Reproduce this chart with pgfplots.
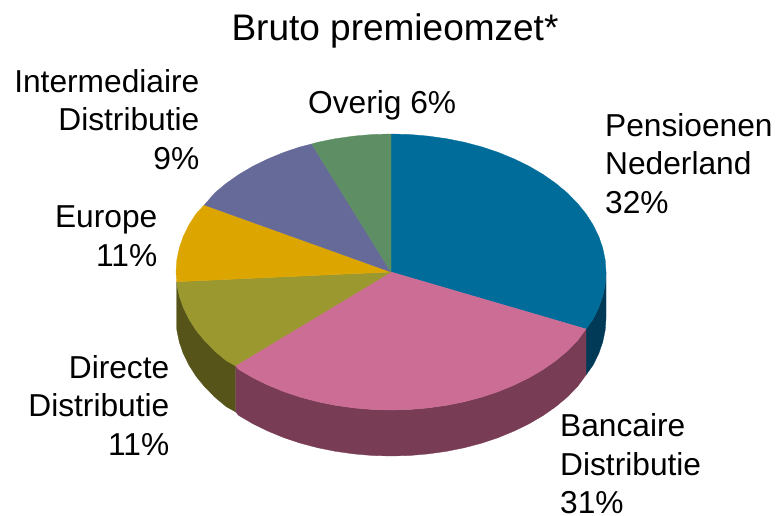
\documentclass[border=0pt]{standalone}
\usepackage{fontspec}
\setmainfont{Liberation Sans}
\usepackage{pgfplots}
\pgfplotsset{compat=1.18}
\definecolor{cBlue}{HTML}{006C9A}
\definecolor{cPink}{HTML}{CC6D95}
\definecolor{cOlive}{HTML}{9A982E}
\definecolor{cGold}{HTML}{DDA500}
\definecolor{cPurple}{HTML}{666A99}
\definecolor{cGreen}{HTML}{5E8E63}
\definecolor{dBlue}{HTML}{003A56}
\definecolor{dPink}{HTML}{783C54}
\definecolor{dOlive}{HTML}{565418}
\begin{document}
\begin{tikzpicture}
\begin{axis}[
    scale only axis,
    width=776pt,
    height=516pt,
    xmin=0, xmax=776,
    ymin=0, ymax=516,
    y dir=reverse,
    axis lines=none,
    clip=false,
    every axis plot/.append style={line width=0.3pt},
]
\path (axis cs:0,0) rectangle (axis cs:776,516);
% side walls
\addplot[fill=dBlue,draw=dBlue] coordinates {
(606,272)(605.2,284)(602.7,296)(598.7,307.7)(593,319.2)(586,329)
(586,375)(593,365.2)(598.7,353.7)(602.7,342)(605.2,330)(606,318)} --cycle;
\addplot[fill=dPink,draw=dPink] coordinates {
(586,329)(577.2,341)(567.1,351.2)(555.7,360.7)(543,369.6)(529.2,377.7)(514.3,385)(498.5,391.5)
(481.9,397.1)(464.5,401.7)(446.6,405.3)(428.3,407.9)(409.7,409.5)(391,410)(372.3,409.5)(353.7,407.9)
(335.4,405.3)(317.5,401.7)(300.1,397.1)(283.5,391.5)(267.7,385)(252.8,377.7)(239,369.6)(235.3,365.7)
(235.3,411.7)(239,415.6)(252.8,423.7)(267.7,431)(283.5,437.5)(300.1,443.1)(317.5,447.7)(335.4,451.3)
(353.7,453.9)(372.3,455.5)(391,456)(409.7,455.5)(428.3,453.9)(446.6,451.3)(464.5,447.7)(481.9,443.1)
(498.5,437.5)(514.3,431)(529.2,423.7)(543,415.6)(555.7,406.7)(567.1,397.2)(577.2,387)(586,375)} --cycle;
\addplot[fill=dOlive,draw=dOlive] coordinates {
(235.3,365.7)(226.3,360.7)(214.9,351.2)(204.8,341)(196.1,330.3)(189,319.2)(183.3,307.7)(179.3,296)(176.8,284)(176.7,281.7)
(176.7,327.7)(176.8,330)(179.3,342)(183.3,353.7)(189,365.2)(196.1,376.3)(204.8,387)(214.9,397.2)(226.3,406.7)(235.3,411.7)} --cycle;
% top faces
\addplot[fill=cBlue,draw=cBlue] coordinates {
(391,272)(391,134)(409.7,134.5)(428.3,136.1)(446.6,138.7)(464.5,142.3)(481.9,146.9)(498.5,152.5)(514.3,159)
(529.2,166.3)(543,174.4)(555.7,183.3)(567.1,192.8)(577.2,203)(585.9,213.7)(593,224.8)(598.7,236.3)(602.7,248)
(605.2,260)(606,272)(605.2,284)(602.7,296)(598.7,307.7)(593,319.2)(586,329)} --cycle;
\addplot[fill=cPink,draw=cPink] coordinates {
(391,272)(586,329)(577.2,341)(567.1,351.2)(555.7,360.7)(543,369.6)(529.2,377.7)(514.3,385)(498.5,391.5)
(481.9,397.1)(464.5,401.7)(446.6,405.3)(428.3,407.9)(409.7,409.5)(391,410)(372.3,409.5)(353.7,407.9)
(335.4,405.3)(317.5,401.7)(300.1,397.1)(283.5,391.5)(267.7,385)(252.8,377.7)(239,369.6)(235.3,365.7)} --cycle;
\addplot[fill=cOlive,draw=cOlive] coordinates {
(391,272)(235.3,365.7)(226.3,360.7)(214.9,351.2)(204.8,341)(196.1,330.3)(189,319.2)(183.3,307.7)(179.3,296)(176.8,284)(176.7,281.7)} --cycle;
\addplot[fill=cGold,draw=cGold] coordinates {
(391,272)(176.7,281.7)(176,272)(176.8,260)(179.3,248)(183.3,236.3)(189,224.8)(196.1,213.7)(204.3,205)} --cycle;
\addplot[fill=cPurple,draw=cPurple] coordinates {
(391,272)(204.3,205)(214.9,192.8)(226.3,183.3)(239,174.4)(252.8,166.3)(267.7,159)(283.5,152.5)(300.1,146.9)(311.7,144)} --cycle;
\addplot[fill=cGreen,draw=cGreen] coordinates {
(391,272)(311.7,144)(317.5,142.3)(335.4,138.7)(353.7,136.1)(372.3,134.5)(391,134)} --cycle;
% labels
\node[font=\fontsize{37}{44}\selectfont,inner sep=0pt] at (axis cs:395,31) {Bruto premieomzet*};
\tikzset{lab/.style={font=\fontsize{31.7}{38.5}\selectfont,inner sep=0pt}}
\node[lab,align=left,anchor=north west] at (axis cs:605,113) {Pensioenen\\Nederland\\32\%};
\node[lab,align=left,anchor=north west] at (axis cs:560,413.5) {Bancaire\\Distributie\\31\%};
\node[lab,align=right,anchor=north east] at (axis cs:169.5,355) {Directe\\Distributie\\11\%};
\node[lab,align=right,anchor=north east] at (axis cs:157.5,205.5) {Europe\\11\%};
\node[lab,align=right,anchor=north east] at (axis cs:199.5,69) {Intermediaire\\Distributie\\9\%};
\node[lab,anchor=north west] at (axis cs:308,90) {Overig 6\%};
\end{axis}
\end{tikzpicture}
\end{document}
